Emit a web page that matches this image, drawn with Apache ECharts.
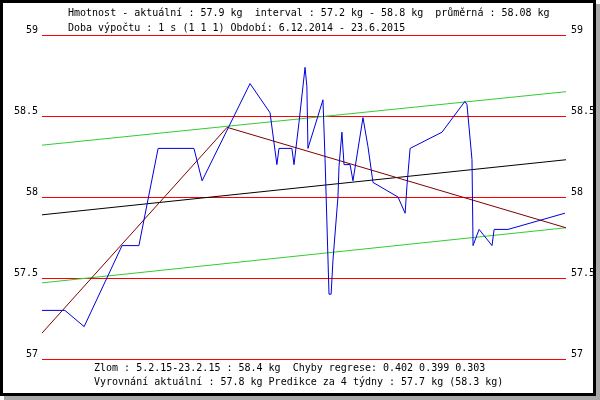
<!DOCTYPE html>
<html>
<head>
<meta charset="utf-8">
<script src="https://cdn.jsdelivr.net/npm/echarts@6/dist/echarts.min.js"></script>
<style>
html,body{margin:0;padding:0;background:#fff;}
#c{width:600px;height:400px;}
</style>
</head>
<body>
<div id="c"></div>
<script>
// Days since 6.12.2014 and measured weights (kg)
const days = [0, 8.7, 16.0, 30.4, 36.8, 44.1, 57.7, 60.8, 79.0, 86.6, 89.2, 90.0, 94.9, 95.7, 97.6, 99.9, 100.6, 101.0, 106.7, 107.5, 109.0, 109.8, 110.5, 112.4, 112.8, 113.9, 114.3, 114.7, 117.0, 118.1, 121.9, 123.8, 125.7, 135.2, 137.9, 138.6, 139.8, 151.9, 160.6, 161.4, 163.3, 163.7, 166.0, 170.9, 171.7, 177.0, 198.6];
const weights = [57.30, 57.30, 57.20, 57.70, 57.70, 58.30, 58.30, 58.10, 58.70, 58.52, 58.20, 58.30, 58.30, 58.20, 58.46, 58.80, 58.68, 58.30, 58.60, 58.23, 57.40, 57.40, 57.61, 58.00, 58.19, 58.40, 58.40, 58.20, 58.20, 58.10, 58.49, 58.31, 58.09, 58.00, 57.90, 58.07, 58.30, 58.40, 58.59, 58.57, 58.23, 57.70, 57.80, 57.70, 57.80, 57.80, 57.90];

// Regression lines
const trendX = [0, 199];
const trendY = [57.89, 58.23];
const upperY = [58.32, 58.65];
const lowerY = [57.47, 57.81];
const breakX = [0, 70.3, 199];
const breakY = [57.16, 58.43, 57.81];

// Axis
const yMin = 57, yMax = 59, yStep = 0.5;
const dayMax = 199;

// Texts
const titleLines = [
  "Hmotnost - aktuální : 57.9 kg  interval : 57.2 kg - 58.8 kg  průměrná : 58.08 kg",
  "Doba výpočtu : 1 s (1 1 1) Období: 6.12.2014 - 23.6.2015"
];
const footLines = [
  "Zlom : 5.2.15-23.2.15 : 58.4 kg  Chyby regrese: 0.402 0.399 0.303",
  "Vyrovnání aktuální : 57.8 kg Predikce za 4 týdny : 57.7 kg (58.3 kg)"
];

const pair = (xs, ys) => xs.map((x, i) => [x, ys[i]]);
const font = "'DejaVu Sans Mono', monospace";
const txt = (s, x, y) => ({ type: 'text', left: x, top: y, z: 10,
  style: { text: s, fill: '#000', font: "10px 'DejaVu Sans Mono', monospace" } });

const chart = echarts.init(document.getElementById('c'));
const lineS = (data, color) => ({
  type: 'line', data, showSymbol: false, symbol: 'none', animation: false,
  lineStyle: { color, width: 1 }, itemStyle: { color }, silent: true,
  xAxisIndex: 0, yAxisIndex: 0
});
const lblFmt = v => (Math.round(v * 10) / 10).toString();

chart.setOption({
  animation: false,
  backgroundColor: 'transparent',
  graphic: [
    { type: 'rect', z: -2, shape: { x: 4, y: 4, width: 596, height: 396 }, style: { fill: '#a8a8a8' } },
    { type: 'rect', z: -1, shape: { x: 1.5, y: 1.5, width: 593, height: 393 }, style: { fill: '#fff', stroke: '#000', lineWidth: 3 } },
    txt(titleLines[0], 68, 8),
    txt(titleLines[1], 68, 23),
    txt(footLines[0], 94, 363),
    txt(footLines[1], 94, 377)
  ],
  grid: { left: 42, right: 34, top: 35, bottom: 41, containLabel: false },
  xAxis: { type: 'value', min: 0, max: dayMax, show: false },
  yAxis: [
    { type: 'value', min: yMin, max: yMax, interval: yStep, position: 'left',
      axisLine: { show: false }, axisTick: { show: false },
      splitLine: { show: true, lineStyle: { color: '#ff0000', width: 1 } },
      axisLabel: { formatter: lblFmt, margin: 4, verticalAlign: 'bottom', color: '#000',
        fontFamily: font, fontSize: 10 } },
    { type: 'value', min: yMin, max: yMax, interval: yStep, position: 'right',
      axisLine: { show: false }, axisTick: { show: false }, splitLine: { show: false },
      axisLabel: { formatter: lblFmt, margin: 5, verticalAlign: 'bottom', color: '#000',
        fontFamily: font, fontSize: 10 } }
  ],
  series: [
    lineS(pair(trendX, upperY), '#33cc33'),
    lineS(pair(trendX, lowerY), '#33cc33'),
    lineS(pair(trendX, trendY), '#000000'),
    lineS(pair(breakX, breakY), '#800000'),
    lineS(pair(days, weights), '#0000dd')
  ]
});
</script>
</body>
</html>
